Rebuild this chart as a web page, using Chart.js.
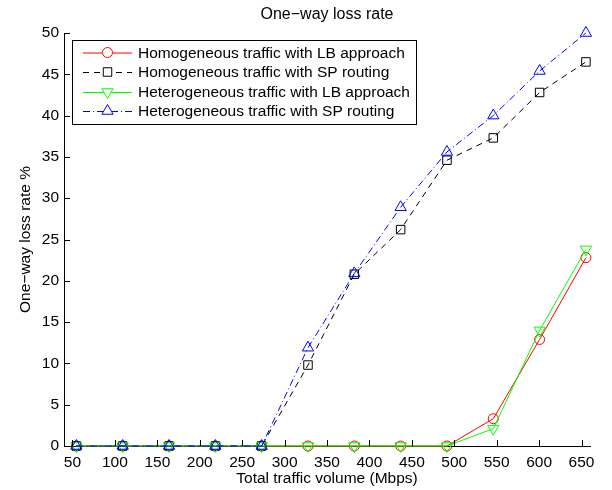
<!DOCTYPE html>
<html>
<head>
<meta charset="utf-8">
<script src="https://cdn.jsdelivr.net/npm/chart.js@4.4.1/dist/chart.umd.min.js"></script>
<style>
html,body{margin:0;padding:0;background:#fff;}
#wrap{width:612px;height:490px;position:relative;}
</style>
</head>
<body>
<div id="wrap"><canvas id="c" width="612" height="490"></canvas></div>
<script>
// ---- data ----
const trafficVolume = [54.6, 109.2, 163.8, 218.4, 273, 327.6, 382.2, 436.8, 491.4, 546, 600.6, 655.2];
const homoLB = [0, 0, 0, 0, 0, 0, 0, 0, 0, 3.3, 12.9, 22.8];
const homoSP = [0, 0, 0, 0, 0, 9.8, 20.8, 26.2, 34.6, 37.3, 42.8, 46.5];
const heteroLB = [0, 0, 0, 0, 0, 0, 0, 0, 0, 2.1, 14.0, 23.8];
const heteroSP = [0, 0, 0, 0, 0, 11.9, 20.9, 28.9, 35.6, 40.0, 45.4, 50.0];
const seriesLabels = [
  'Homogeneous traffic with LB approach',
  'Homogeneous traffic with SP routing',
  'Heterogeneous traffic with LB approach',
  'Heterogeneous traffic with SP routing'
];
const xTicks = [50, 100, 150, 200, 250, 300, 350, 400, 450, 500, 550, 600, 650];
const yTicks = [0, 5, 10, 15, 20, 25, 30, 35, 40, 45, 50];
const titleText = 'One\u2212way loss rate';
const xLabel = 'Total traffic volume (Mbps)';
const yLabel = 'One\u2212way loss rate %';

const FONT = '"Liberation Sans", Arial, Helvetica, sans-serif';

function pts(ys) { return trafficVolume.map((x, i) => ({x: x, y: ys[i]})); }

const styles = [
  {color: '#ff0000', dash: [], point: 'circle', radius: 5, rot: 0},
  {color: '#000000', dash: [6, 5], point: 'rect', radius: 6, rot: 0},
  {color: '#00ff00', dash: [], point: 'triangle', radius: 6.5, rot: 180},
  {color: '#0000ff', dash: [7, 3, 1, 3], point: 'triangle', radius: 6.5, rot: 0}
];
const seriesData = [homoLB, homoSP, heteroLB, heteroSP];

const datasets = seriesData.map((d, i) => ({
  label: seriesLabels[i],
  data: pts(d),
  borderColor: styles[i].color,
  backgroundColor: 'rgba(0,0,0,0)',
  borderWidth: 1,
  borderDash: styles[i].dash,
  pointStyle: styles[i].point,
  pointRadius: styles[i].radius,
  pointRotation: styles[i].rot,
  pointBorderColor: styles[i].color,
  pointBackgroundColor: 'rgba(0,0,0,0)',
  pointBorderWidth: 1,
  fill: false,
  tension: 0,
  clip: false,
  order: 4 - i
}));

const overlay = {
  id: 'overlay',
  afterDraw(chart) {
    const ctx = chart.ctx, a = chart.chartArea;
    const xs = chart.scales.x, ys = chart.scales.y;
    ctx.save();
    ctx.strokeStyle = '#000';
    ctx.lineWidth = 1;
    ctx.setLineDash([]);
    ctx.beginPath();
    xs.ticks.forEach(t => {
      const px = Math.round(xs.getPixelForValue(t.value)) + 0.5;
      ctx.moveTo(px, a.bottom); ctx.lineTo(px, a.bottom - 6);
    });
    ys.ticks.forEach(t => {
      const py = Math.round(ys.getPixelForValue(t.value)) + 0.5;
      ctx.moveTo(a.left, py); ctx.lineTo(a.left + 6, py);
    });
    ctx.stroke();

    // texts
    ctx.fillStyle = '#000';
    ctx.textAlign = 'center';
    ctx.textBaseline = 'middle';
    ctx.font = '16px ' + FONT;
    ctx.fillText(titleText, (a.left + a.right) / 2, 15);
    ctx.font = '15.5px ' + FONT;
    ctx.fillText(xLabel, (a.left + a.right) / 2, 479);
    ctx.save();
    ctx.translate(26, (a.top + a.bottom) / 2);
    ctx.rotate(-Math.PI / 2);
    ctx.fillText(yLabel, 0, 0);
    ctx.restore();

    // legend
    ctx.font = '15.5px ' + FONT;
    let maxW = 0;
    chart.data.datasets.forEach(ds => { maxW = Math.max(maxW, ctx.measureText(ds.label).width); });
    const lx = 72.5, ly = 40.5, lh = 84;
    const lw = Math.round(138 + maxW + 7 - lx);
    ctx.fillStyle = '#fff';
    ctx.fillRect(lx, ly, lw, lh);
    ctx.strokeStyle = '#000';
    ctx.lineWidth = 1;
    ctx.strokeRect(lx, ly, lw, lh);
    const rowY = [52.5, 72, 92, 111];
    chart.data.datasets.forEach((ds, i) => {
      const y = rowY[i];
      ctx.save();
      ctx.strokeStyle = ds.borderColor;
      ctx.fillStyle = 'rgba(0,0,0,0)';
      ctx.lineWidth = 1;
      ctx.setLineDash(ds.borderDash);
      ctx.beginPath();
      ctx.moveTo(83, y + 0.5); ctx.lineTo(132, y + 0.5);
      ctx.stroke();
      ctx.setLineDash([]);
      ctx.fillStyle = '#fff';
      Chart.helpers.drawPoint(ctx, {
        pointStyle: ds.pointStyle,
        rotation: ds.pointRotation,
        radius: ds.pointRadius,
        borderWidth: 1
      }, 107.5, y);
      ctx.restore();
      ctx.fillStyle = '#000';
      ctx.textAlign = 'left';
      ctx.textBaseline = 'middle';
      ctx.font = '15.5px ' + FONT;
      ctx.fillText(ds.label, 138, y + 1);
    });
    ctx.restore();
  }
};

new Chart(document.getElementById('c'), {
  type: 'line',
  data: {datasets: datasets},
  options: {
    responsive: false,
    animation: false,
    devicePixelRatio: 1,
    layout: {padding: {left: 0, right: 22, top: 33, bottom: 0}},
    plugins: {legend: {display: false}, title: {display: false}, tooltip: {enabled: false}},
    elements: {line: {borderCapStyle: 'butt'}},
    scales: {
      x: {
        type: 'linear',
        min: 40, max: 660,
        afterBuildTicks: s => { s.ticks = xTicks.map(v => ({value: v})); },
        afterFit: s => { s.height = 44; },
        grid: {display: false, drawTicks: false},
        border: {display: true, color: '#000', width: 1},
        ticks: {color: '#000', padding: 7, maxRotation: 0, autoSkip: false, font: {family: FONT, size: 15.5}}
      },
      y: {
        type: 'linear',
        min: 0, max: 50,
        afterBuildTicks: s => { s.ticks = yTicks.map(v => ({value: v})); },
        afterFit: s => { s.width = 64; },
        grid: {display: false, drawTicks: false},
        border: {display: true, color: '#000', width: 1},
        ticks: {color: '#000', padding: 5, autoSkip: false, font: {family: FONT, size: 15.5}}
      }
    }
  },
  plugins: [overlay]
});
</script>
</body>
</html>
